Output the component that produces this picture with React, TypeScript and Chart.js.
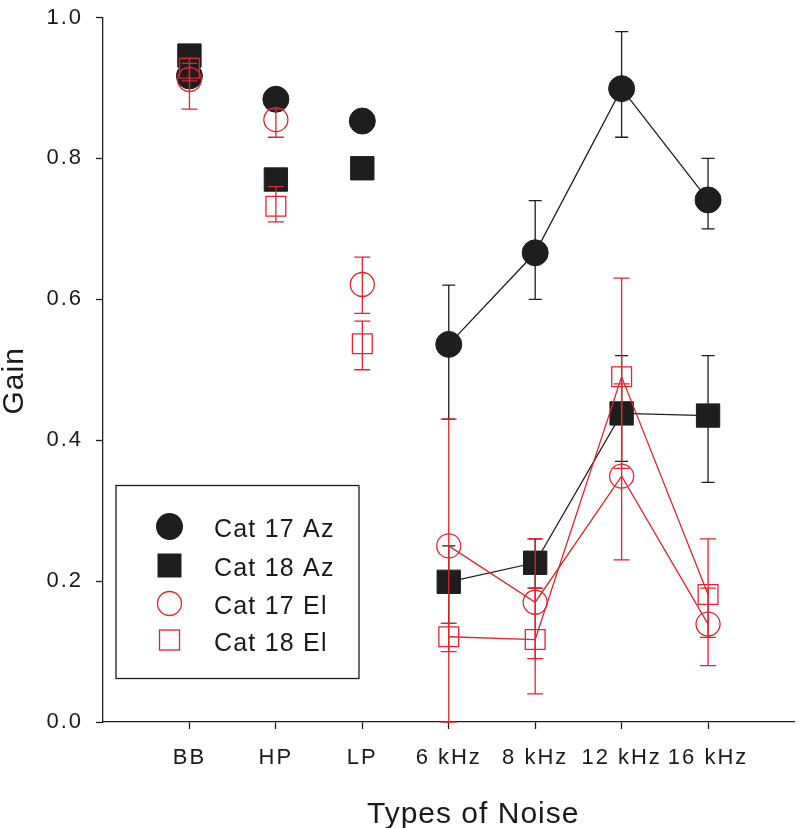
import React, { useEffect, useRef } from 'react';
import { Chart, registerables } from 'chart.js';

Chart.register(...registerables);

// ---- data ----
const categories = ['BB', 'HP', 'LP', '6 kHz', '8 kHz', '12 kHz', '16 kHz'];
const yTickValues = [0, 0.2, 0.4, 0.6, 0.8, 1.0];

const cat17Az = [0.917, 0.884, 0.853, 0.536, 0.666, 0.899, 0.741];
const cat17AzLo = [null, null, null, 0.43, 0.6, 0.83, 0.7];
const cat17AzHi = [null, null, null, 0.62, 0.74, 0.98, 0.8];

const cat18Az = [0.946, 0.77, 0.786, 0.199, 0.226, 0.438, 0.435];
const cat18AzLo = [null, null, null, 0.14, 0.19, 0.37, 0.34];
const cat18AzHi = [null, null, null, 0.25, 0.26, 0.52, 0.52];

const cat17El = [0.912, 0.855, 0.621, 0.25, 0.17, 0.349, 0.139];
const cat17ElLo = [0.87, 0.83, 0.58, 0.0, 0.09, 0.23, 0.08];
const cat17ElHi = [0.935, 0.87, 0.66, 0.43, 0.26, 0.48, 0.19];

const cat18El = [0.928, 0.732, 0.537, 0.121, 0.117, 0.49, 0.181];
const cat18ElLo = [0.91, 0.71, 0.5, 0.1, 0.04, 0.36, 0.12];
const cat18ElHi = [0.942, 0.76, 0.569, 0.14, 0.19, 0.63, 0.26];

const seriesNames = ['Cat 17 Az', 'Cat 18 Az', 'Cat 17 El', 'Cat 18 El'];
const xTitle = 'Types of Noise';
const yTitle = 'Gain';

// ---- styles ----
const BLACK = '#1e1e1e';
const RED = '#e4232b';
const TEXT = '#1a1a1a';
const FONT = "'Liberation Sans', Arial, sans-serif";
const TRANSPARENT = 'rgba(0,0,0,0)';

const toPoints = (vals: number[]) => vals.map((v, i) => ({ x: i, y: v }));

const segColor = (color: string) => (ctx: any) => (ctx.p0DataIndex < 3 ? TRANSPARENT : color);

const errorBarPlugin = {
  id: 'errorBars',
  beforeDatasetDraw(chart: any, args: any) {
    const ds = chart.data.datasets[args.index];
    if (!ds.errLo) return;
    const ys = chart.scales.y;
    const ctx = chart.ctx;
    const cap = ds.errCap;
    ctx.save();
    ctx.strokeStyle = ds.errColor;
    ctx.lineWidth = 1.3;
    args.meta.data.forEach((pt: any, i: number) => {
      const lo = ds.errLo[i];
      const hi = ds.errHi[i];
      if (lo == null || hi == null) return;
      const x = pt.x;
      const yl = ys.getPixelForValue(lo);
      const yh = ys.getPixelForValue(hi);
      ctx.beginPath();
      ctx.moveTo(x, yl);
      ctx.lineTo(x, yh);
      ctx.moveTo(x - cap, yl);
      ctx.lineTo(x + cap, yl);
      ctx.moveTo(x - cap, yh);
      ctx.lineTo(x + cap, yh);
      ctx.stroke();
    });
    ctx.restore();
  },
};

const spacingPlugin = {
  id: 'spacing',
  beforeDraw(chart: any) {
    chart.ctx.letterSpacing = '2px';
  },
};

const decorPlugin = {
  id: 'decor',
  afterDraw(chart: any) {
    const ctx = chart.ctx;
    const area = chart.chartArea;
    ctx.save();
    // legend box
    const bx = area.left + 13;
    const by = area.top + 468;
    const bw = 243;
    const bh = 193;
    ctx.strokeStyle = BLACK;
    ctx.lineWidth = 1.3;
    ctx.strokeRect(bx, by, bw, bh);
    const mx = bx + 53.5;
    const tx = bx + 98;
    const rows = [41, 80, 118, 154.5];
    // filled circle
    ctx.fillStyle = BLACK;
    ctx.beginPath();
    ctx.arc(mx, by + rows[0], 13.5, 0, Math.PI * 2);
    ctx.fill();
    // filled square
    ctx.fillRect(mx - 12, by + rows[1] - 12, 24, 24);
    // open circle
    ctx.strokeStyle = RED;
    ctx.lineWidth = 1.3;
    ctx.beginPath();
    ctx.arc(mx, by + rows[2], 12, 0, Math.PI * 2);
    ctx.stroke();
    // open square
    ctx.strokeRect(mx - 10, by + rows[3] - 10, 20, 20);
    // legend text
    ctx.letterSpacing = '1.2px';
    ctx.fillStyle = TEXT;
    ctx.font = `25px ${FONT}`;
    ctx.textAlign = 'left';
    ctx.textBaseline = 'alphabetic';
    seriesNames.forEach((n, i) => {
      ctx.fillText(n, tx, by + rows[i] + 10.5);
    });
    // axis titles
    ctx.letterSpacing = '1px';
    ctx.font = `30px ${FONT}`;
    ctx.fillText(xTitle, area.left + 264, area.bottom + 101);
    ctx.save();
    ctx.translate(area.left - 80.5, area.top + 397);
    ctx.rotate(-Math.PI / 2);
    ctx.fillText(yTitle, 0, 0);
    ctx.restore();
    ctx.restore();
    ctx.letterSpacing = '0px';
  },
};

export default function App() {
  const ref = useRef<HTMLCanvasElement>(null);
  useEffect(() => {
    document.body.style.margin = '0';
    const tickFont = { family: FONT, size: 22 };
    const chart = new Chart(ref.current as HTMLCanvasElement, {
      type: 'line',
      data: {
        datasets: [
          {
            label: seriesNames[0],
            data: toPoints(cat17Az),
            borderColor: BLACK,
            borderWidth: 1.3,
            segment: { borderColor: segColor(BLACK) },
            pointStyle: 'circle',
            pointRadius: 13,
            pointBorderWidth: 1,
            pointBackgroundColor: BLACK,
            pointBorderColor: BLACK,
            order: 2,
            errLo: cat17AzLo,
            errHi: cat17AzHi,
            errColor: BLACK,
            errCap: 6.5,
          } as any,
          {
            label: seriesNames[1],
            data: toPoints(cat18Az),
            borderColor: BLACK,
            borderWidth: 1.3,
            segment: { borderColor: segColor(BLACK) },
            pointStyle: 'rect',
            pointRadius: 16.5,
            pointBorderWidth: 1,
            pointBackgroundColor: BLACK,
            pointBorderColor: BLACK,
            order: 3,
            errLo: cat18AzLo,
            errHi: cat18AzHi,
            errColor: BLACK,
            errCap: 6.5,
          } as any,
          {
            label: seriesNames[2],
            data: toPoints(cat17El),
            borderColor: RED,
            borderWidth: 1.3,
            segment: { borderColor: segColor(RED) },
            pointStyle: 'circle',
            pointRadius: 12,
            pointBorderWidth: 1.3,
            pointBackgroundColor: TRANSPARENT,
            pointBorderColor: RED,
            order: 1,
            errLo: cat17ElLo,
            errHi: cat17ElHi,
            errColor: RED,
            errCap: 8,
          } as any,
          {
            label: seriesNames[3],
            data: toPoints(cat18El),
            borderColor: RED,
            borderWidth: 1.3,
            segment: { borderColor: segColor(RED) },
            pointStyle: 'rect',
            pointRadius: 14,
            pointBorderWidth: 1.3,
            pointBackgroundColor: TRANSPARENT,
            pointBorderColor: RED,
            order: 0,
            errLo: cat18ElLo,
            errHi: cat18ElHi,
            errColor: RED,
            errCap: 8,
          } as any,
        ],
      },
      options: {
        animation: false,
        responsive: true,
        maintainAspectRatio: false,
        events: [],
        layout: { padding: { top: 10, right: 3, left: 0, bottom: 0 } },
        plugins: {
          legend: { display: false },
          tooltip: { enabled: false },
          title: { display: false },
        },
        scales: {
          x: {
            type: 'linear',
            min: -1,
            max: 7,
            afterBuildTicks: (s: any) => {
              s.ticks = categories.map((_, i) => ({ value: i }));
            },
            afterFit: (s: any) => {
              s.height = 106;
              s.paddingLeft = 0;
              s.paddingRight = 0;
            },
            ticks: {
              callback: (v: any) => categories[v] ?? '',
              font: tickFont,
              color: TEXT,
              padding: 16,
              maxRotation: 0,
              autoSkip: false,
            },
            grid: {
              drawOnChartArea: false,
              drawTicks: true,
              tickLength: 7,
              tickColor: BLACK,
              tickWidth: 1.3,
            },
            border: { display: true, color: BLACK, width: 1.3 },
          },
          y: {
            type: 'linear',
            min: 0,
            max: 1,
            afterBuildTicks: (s: any) => {
              s.ticks = yTickValues.map((v) => ({ value: v }));
            },
            afterFit: (s: any) => {
              s.width = 103;
              s.paddingTop = 0;
              s.paddingBottom = 0;
            },
            ticks: {
              callback: (v: any) => Number(v).toFixed(1),
              font: tickFont,
              color: TEXT,
              padding: 13,
            },
            grid: {
              drawOnChartArea: false,
              drawTicks: true,
              tickLength: 7,
              tickColor: BLACK,
              tickWidth: 1.3,
            },
            border: { display: true, color: BLACK, width: 1.3 },
          },
        },
      } as any,
      plugins: [spacingPlugin, errorBarPlugin, decorPlugin],
    });
    return () => chart.destroy();
  }, []);
  return (
    <div style={{ width: 812, height: 828, position: 'relative' }}>
      <canvas ref={ref} />
    </div>
  );
}
